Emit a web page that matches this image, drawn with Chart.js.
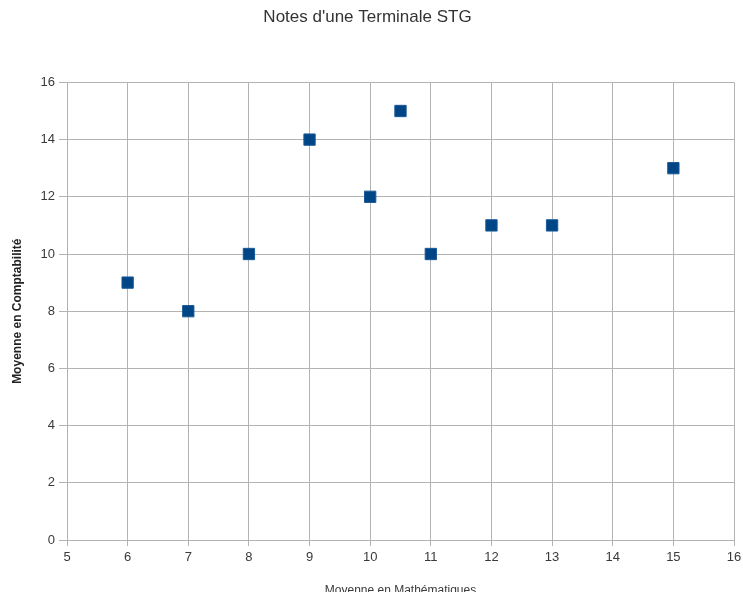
<!DOCTYPE html>
<html>
<head>
<meta charset="utf-8">
<script src="https://cdn.jsdelivr.net/npm/chart.js@4"></script>
<style>
  html, body { margin: 0; padding: 0; background: #fff; }
  #wrap { width: 743px; height: 592px; }
</style>
</head>
<body>
<div id="wrap"><canvas id="scatterChart"></canvas></div>
<script>
// moyenne en maths (x) / moyenne en compta (y)
const mathsNotes = [6, 7, 8, 9, 10, 10.5, 11, 12, 13, 15];
const comptaNotes = [9, 8, 10, 14, 12, 15, 10, 11, 11, 13];

const gridColor = "#b3b3b3";
const textColor = "#3a3a3a";
const fontFamily = "'Liberation Sans', Arial, sans-serif";

const points = mathsNotes.map((x, i) => ({ x: x, y: comptaNotes[i] }));

const ctx = document.getElementById("scatterChart");

new Chart(ctx, {
  type: "scatter",
  data: {
    datasets: [
      {
        label: "Notes",
        data: points,
        pointStyle: "rect",
        pointRadius: 8,
        pointHoverRadius: 8,
        backgroundColor: "#004586",
        borderColor: "#1a5a96",
        borderWidth: 1,
      },
    ],
  },
  options: {
    responsive: true,
    maintainAspectRatio: false,
    animation: false,
    layout: { padding: { left: 0, right: 8, top: 0, bottom: -6 } },
    plugins: {
      legend: { display: false },
      tooltip: { enabled: false },
      title: {
        display: true,
        text: "Notes d'une Terminale STG",
        color: "#333",
        font: { family: fontFamily, size: 17, weight: "normal" },
        padding: { top: 7, bottom: 55 },
      },
    },
    scales: {
      x: {
        type: "linear",
        min: 5,
        max: 16,
        ticks: {
          stepSize: 1,
          color: textColor,
          font: { family: fontFamily, size: 13 },
          padding: 4,
        },
        grid: { color: gridColor, tickLength: 6 },
        border: { color: gridColor },
        title: {
          display: true,
          text: "Moyenne en Mathématiques",
          color: textColor,
          font: { family: fontFamily, size: 12 },
          padding: 0,
        },
        afterFit: (scale) => {
          scale.height = 58;
          scale.paddingRight = 0; // let the last label overflow a bit
        },
      },
      y: {
        type: "linear",
        min: 0,
        max: 16,
        ticks: {
          stepSize: 2,
          color: textColor,
          font: { family: fontFamily, size: 13 },
          padding: 4,
        },
        grid: { color: gridColor, tickLength: 8 },
        border: { color: gridColor },
        title: {
          display: true,
          text: "Moyenne en Comptabilité",
          color: "#222",
          font: { family: fontFamily, size: 12, weight: "bold" },
          padding: { top: 10, bottom: 0 },
        },
        afterFit: (scale) => {
          scale.width = 67;
        },
      },
    },
  },
});
</script>
</body>
</html>
